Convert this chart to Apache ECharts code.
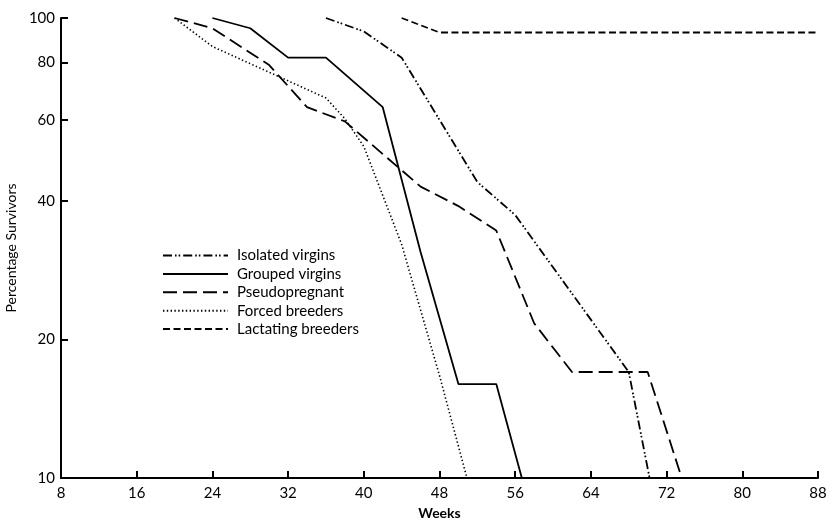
<!DOCTYPE html>
<html>
<head>
<meta charset="utf-8">
<script src="https://cdn.jsdelivr.net/npm/echarts@6/dist/echarts.min.js"></script>
<style>
html,body{margin:0;padding:0;background:#fff;}
#chart{width:830px;height:521px;}
</style>
</head>
<body>
<div id="chart"></div>
<script>
// ---- data ----
var xTicks = [8, 16, 24, 32, 40, 48, 56, 64, 72, 80, 88];
var yTicks = [10, 20, 40, 60, 80, 100];

var isolatedWeeks = [36, 40, 44, 52, 56, 68, 70.2];
var isolatedVals  = [100, 93.5, 82, 44, 37.3, 17, 10];

var groupedWeeks = [24, 28, 32, 36, 42, 46, 50, 54, 56.7];
var groupedVals  = [100, 95, 82, 82, 64, 31, 16, 16, 10];

var pseudoWeeks = [20, 24, 30, 34, 38, 46, 50, 54, 58, 62, 70, 73.6];
var pseudoVals  = [100, 95, 79, 64, 59.6, 43, 39, 34.5, 21.7, 17, 17, 10];

var forcedWeeks = [20, 24, 36, 38, 40, 44, 48, 50.9];
var forcedVals  = [100, 86.7, 67, 60.4, 52.6, 32.2, 16.7, 10];

var lactatingWeeks = [44, 48, 88];
var lactatingVals  = [100, 93, 93];

var seriesNames = ['Isolated virgins', 'Grouped virgins', 'Pseudopregnant', 'Forced breeders', 'Lactating breeders'];

function pairs(xs, ys) {
  return xs.map(function (x, i) { return [x, ys[i]]; });
}

var FONT = 'Lato, "DejaVu Sans", sans-serif';

function lineSeries(name, xs, ys, type, width) {
  return {
    name: name,
    type: 'line',
    data: pairs(xs, ys),
    symbol: 'none',
    silent: true,
    lineStyle: { color: '#000', width: width, type: type, cap: 'butt' },
    itemStyle: { color: '#000' },
    clip: true
  };
}

var chart = echarts.init(document.getElementById('chart'), null, { renderer: 'canvas' });
chart.setOption({
  animation: false,
  backgroundColor: '#fff',
  grid: { left: 61, right: 12, top: 18, bottom: 43, containLabel: false, outerBoundsMode: 'none' },
  legend: {
    orient: 'vertical',
    left: 157,
    top: 243,
    itemWidth: 65,
    itemHeight: 14,
    itemGap: 3.4,
    selectedMode: false,
    data: seriesNames,
    itemStyle: { opacity: 0 },
    textStyle: { fontFamily: FONT, fontSize: 15, color: '#000', padding: [0, 0, 0, 4], lineHeight: 14 }
  },
  xAxis: {
    type: 'value',
    min: 8,
    max: 88,
    interval: 8,
    name: 'Weeks',
    nameLocation: 'middle',
    nameGap: 28,
    nameTextStyle: { fontFamily: FONT, fontSize: 14, fontWeight: 'bold', color: '#000' },
    axisLine: { show: true, onZero: false, lineStyle: { color: '#000', width: 2 } },
    axisTick: { show: true, inside: true, length: 7, lineStyle: { color: '#000', width: 2 } },
    axisLabel: { fontFamily: FONT, fontSize: 15, color: '#000', margin: 8 },
    splitLine: { show: false }
  },
  yAxis: {
    type: 'log',
    logBase: 10,
    min: 10,
    max: 100,
    name: 'Percentage Survivors',
    nameLocation: 'middle',
    nameGap: 40,
    nameTextStyle: { fontFamily: FONT, fontSize: 14, color: '#000' },
    axisLine: { show: true, lineStyle: { color: '#000', width: 2 } },
    axisTick: { show: true, inside: true, length: 7, customValues: yTicks, lineStyle: { color: '#000', width: 2 } },
    axisLabel: { fontFamily: FONT, fontSize: 15, color: '#000', margin: 6, customValues: yTicks },
    splitLine: { show: false },
    minorTick: { show: false }
  },
  series: [
    lineSeries(seriesNames[0], isolatedWeeks, isolatedVals, [9, 3, 1.6, 2, 1.6, 3], 1.8),
    lineSeries(seriesNames[1], groupedWeeks, groupedVals, 'solid', 1.8),
    lineSeries(seriesNames[2], pseudoWeeks, pseudoVals, [14, 6], 1.8),
    lineSeries(seriesNames[3], forcedWeeks, forcedVals, [1.4, 2.4], 1.6),
    lineSeries(seriesNames[4], lactatingWeeks, lactatingVals, [7, 3.5], 1.8)
  ]
});
</script>
</body>
</html>
